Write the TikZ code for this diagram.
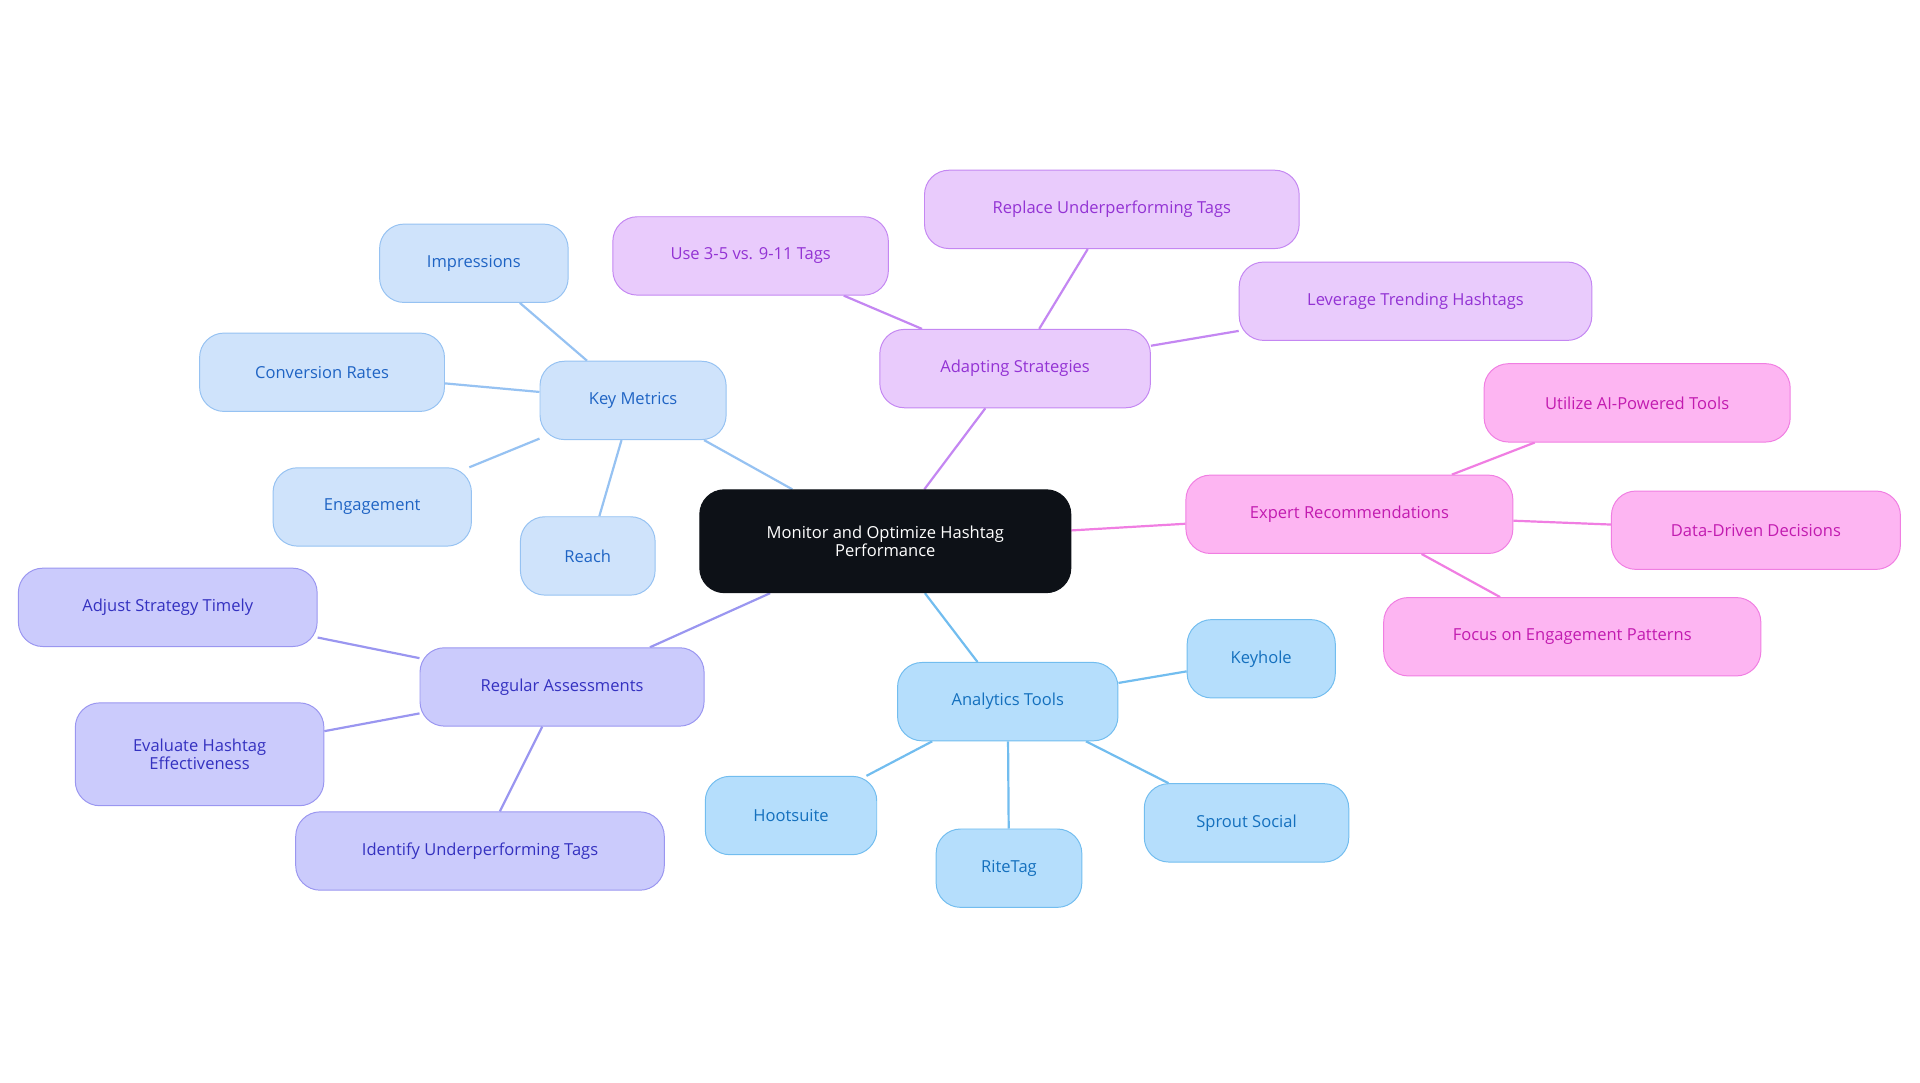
\documentclass[tikz,border=0pt]{standalone}
\usepackage{fontspec}
\setmainfont{Open Sans}
\usetikzlibrary{backgrounds}
\definecolor{kmF}{HTML}{CFE3FB}\definecolor{kmD}{HTML}{96C2F2}\definecolor{kmT}{HTML}{1F64C4}
\definecolor{adF}{HTML}{E9CBFC}\definecolor{adD}{HTML}{C487F2}\definecolor{adT}{HTML}{9333D4}
\definecolor{exF}{HTML}{FDB5F2}\definecolor{exD}{HTML}{F07EE2}\definecolor{exT}{HTML}{C21BB0}
\definecolor{anF}{HTML}{B5DEFC}\definecolor{anD}{HTML}{72BDEF}\definecolor{anT}{HTML}{1470BE}
\definecolor{raF}{HTML}{CBCBFC}\definecolor{raD}{HTML}{9A96F0}\definecolor{raT}{HTML}{3431C0}
\definecolor{ctr}{HTML}{0D1117}
\tikzset{
 bx/.style={rounded corners=20pt,minimum height=64pt,align=center,font=\fontsize{13.5pt}{15pt}\selectfont,line width=0.8pt,inner sep=2pt},
 km/.style={bx,fill=kmF,draw=kmD,text=kmT},
 ad/.style={bx,fill=adF,draw=adD,text=adT},
 ex/.style={bx,fill=exF,draw=exD,text=exT},
 an/.style={bx,fill=anF,draw=anD,text=anT},
 ra/.style={bx,fill=raF,draw=raD,text=raT},
 e/.style={line width=1.8pt}
}
\begin{document}
\begin{tikzpicture}[x=1pt,y=-1pt]
\useasboundingbox (0,0) rectangle (1568,884);
\node[bx,fill=ctr,draw=ctr,text=white,minimum width=303pt,minimum height=84pt,font=\fontsize{13.5pt}{14.5pt}\selectfont] (c) at (723,442) {Monitor and Optimize Hashtag\\Performance};
\node[km,minimum width=152pt] (k) at (517,327) {Key Metrics};
\node[km,minimum width=154pt] (k1) at (387,215) {Impressions};
\node[km,minimum width=200pt] (k2) at (263,304) {Conversion Rates};
\node[km,minimum width=162pt] (k3) at (304,414) {Engagement};
\node[km,minimum width=110pt] (k4) at (480,454) {Reach};
\node[ad,minimum width=221pt] (a) at (829,301) {Adapting Strategies};
\node[ad,minimum width=225pt] (a1) at (613,209) {Use 3-5 vs. 9-11 Tags};
\node[ad,minimum width=306pt] (a2) at (908,171) {Replace Underperforming Tags};
\node[ad,minimum width=288pt] (a3) at (1156,246) {Leverage Trending Hashtags};
\node[ex,minimum width=267pt] (x) at (1102,420) {Expert Recommendations};
\node[ex,minimum width=250pt] (x1) at (1337,329) {Utilize AI-Powered Tools};
\node[ex,minimum width=236pt] (x2) at (1434,433) {Data-Driven Decisions};
\node[ex,minimum width=308pt] (x3) at (1284,520) {Focus on Engagement Patterns};
\node[an,minimum width=180pt] (t) at (823,573) {Analytics Tools};
\node[an,minimum width=121pt] (t1) at (1030,538) {Keyhole};
\node[an,minimum width=167pt] (t2) at (1018,672) {Sprout Social};
\node[an,minimum width=119pt] (t3) at (824,709) {RiteTag};
\node[an,minimum width=140pt] (t4) at (646,666) {Hootsuite};
\node[ra,minimum width=232pt] (r) at (459,561) {Regular Assessments};
\node[ra,minimum width=244pt] (r1) at (137,496) {Adjust Strategy Timely};
\node[ra,minimum width=203pt,minimum height=84pt,font=\fontsize{13.5pt}{14.5pt}\selectfont] (r2) at (163,616) {Evaluate Hashtag\\Effectiveness};
\node[ra,minimum width=301pt] (r3) at (392,695) {Identify Underperforming Tags};
\begin{scope}[on background layer]
\draw[e,kmD] (c) -- (k) (k)--(k1) (k)--(k2) (k)--(k3) (k)--(k4);
\draw[e,adD] (c) -- (a) (a)--(a1) (a)--(a2) (a)--(a3);
\draw[e,exD] (c) -- (x) (x)--(x1) (x)--(x2) (x)--(x3);
\draw[e,anD] (c) -- (t) (t)--(t1) (t)--(t2) (t)--(t3) (t)--(t4);
\draw[e,raD] (c) -- (r) (r)--(r1) (r)--(r2) (r)--(r3);
\end{scope}
\end{tikzpicture}
\end{document}
